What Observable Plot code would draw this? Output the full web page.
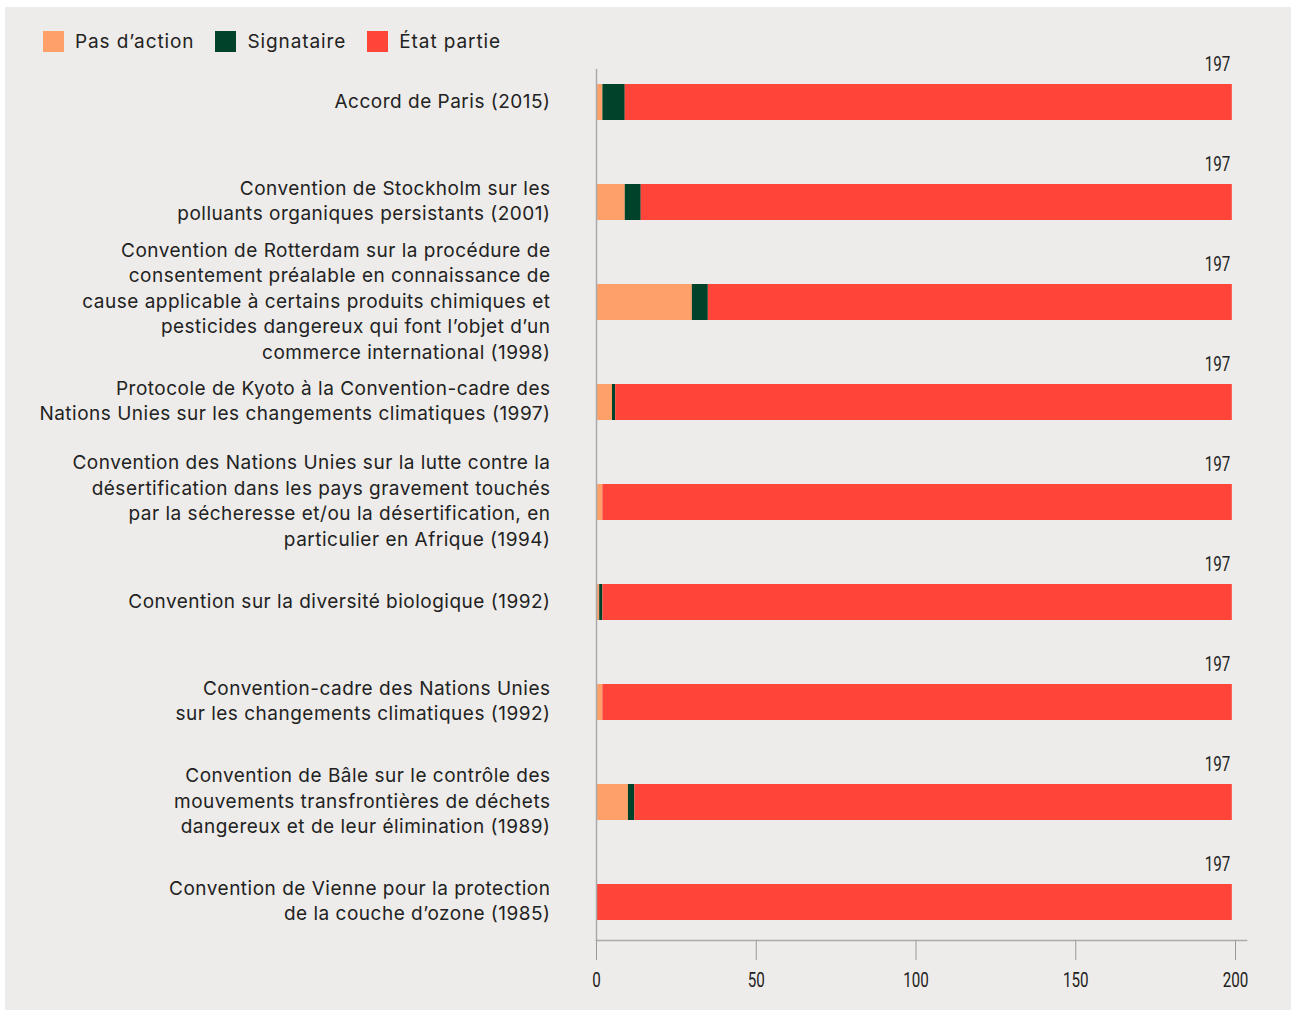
<!DOCTYPE html>
<html>
<head>
<meta charset="utf-8">
<script src="https://cdn.jsdelivr.net/npm/d3@7"></script>
<script src="https://cdn.jsdelivr.net/npm/@observablehq/plot@0.6"></script>
<style>
  body { margin: 0; background: #ffffff; width: 1296px; height: 1012px; position: relative; overflow: hidden; }
  #panel { position: absolute; left: 5px; top: 7px; width: 1286px; height: 1003px; background: #edecea; }
  #legend { position: absolute; left: 43px; top: 30px; display: flex; align-items: center; font-family: Inter, sans-serif; font-size: 19px; letter-spacing: 0.9px; color: #222; }
  .sw { display: flex; align-items: center; margin-right: 21px; }
  .sq { width: 21px; height: 21px; margin-right: 11px; }
  #chart { position: absolute; left: 0; top: 60px; }
  .ylab text { letter-spacing: 0.5px; }
</style>
</head>
<body>
<div id="panel"></div>
<div id="legend"></div>
<div id="chart"></div>
<script>
const categories = [
  "Accord de Paris (2015)",
  "Convention de Stockholm sur les\npolluants organiques persistants (2001)",
  "Convention de Rotterdam sur la procédure de\nconsentement préalable en connaissance de\ncause applicable à certains produits chimiques et\npesticides dangereux qui font l’objet d’un\ncommerce international (1998)",
  "Protocole de Kyoto à la Convention-cadre des\nNations Unies sur les changements climatiques (1997)",
  "Convention des Nations Unies sur la lutte contre la\ndésertification dans les pays gravement touchés\npar la sécheresse et/ou la désertification, en\nparticulier en Afrique (1994)",
  "Convention sur la diversité biologique (1992)",
  "Convention-cadre des Nations Unies\nsur les changements climatiques (1992)",
  "Convention de Bâle sur le contrôle des\nmouvements transfrontières de déchets\ndangereux et de leur élimination (1989)",
  "Convention de Vienne pour la protection\nde la couche d’ozone (1985)"
];
const seriesNames = ["Pas d’action", "Signataire", "État partie"];
const seriesColors = ["#fda06a", "#00432a", "#ff4539"];
const pasAction = [2, 9, 30, 5, 2, 1, 2, 10, 0];
const signataire = [7, 5, 5, 1, 0, 1, 0, 2, 0];
const etatPartie = [190, 185, 164, 193, 197, 197, 197, 187, 199];
const totalLabels = ["197", "197", "197", "197", "197", "197", "197", "197", "197"];
const xTicks = [0, 50, 100, 150, 200];

// legend
const leg = document.getElementById("legend");
seriesNames.forEach((s, i) => {
  const d = document.createElement("div"); d.className = "sw";
  const q = document.createElement("div"); q.className = "sq"; q.style.background = seriesColors[i];
  const t = document.createElement("span"); t.textContent = s;
  d.appendChild(q); d.appendChild(t); leg.appendChild(d);
});

const seriesValues = [pasAction, signataire, etatPartie];
const rows = [];
categories.forEach((c, i) => {
  seriesNames.forEach((s, j) => rows.push({name: c, series: s, value: seriesValues[j][i]}));
});
const totals = categories.map((c, i) => ({name: c, total: pasAction[i] + signataire[i] + etatPartie[i], label: totalLabels[i]}));

const numFont = "Roboto, sans-serif";

const plot = Plot.plot({
  width: 1296,
  height: 950,
  marginLeft: 596,
  marginRight: 61,
  marginTop: 3,
  marginBottom: 70,
  style: {background: "transparent", overflow: "visible"},
  x: {domain: [0, 200], label: null, axis: null},
  y: {domain: categories, paddingInner: 0.64, paddingOuter: 0.2, axis: null, label: null},
  color: {domain: seriesNames, range: seriesColors},
  marks: [
    Plot.barX(rows, {y: "name", x: "value", fill: "series"}),
    Plot.ruleX([0], {stroke: "#aaaaaa", strokeWidth: 1.5, insetTop: 6}),
    Plot.frame({anchor: "bottom", stroke: "#aaaaaa", strokeWidth: 1.5, insetRight: -11}),
    Plot.axisX({ticks: xTicks, tickSize: 20, tickPadding: 12, fontSize: 20.5, fontFamily: numFont, stroke: "#999", fill: "#222", label: null, className: "num"}),
    Plot.axisY({tickSize: 0, tickPadding: 46, fontSize: 19, lineHeight: 1.342, dy: -3, fontFamily: "Inter, sans-serif", fill: "#222", label: null, className: "ylab"}),
    Plot.text(totals, {x: "total", y: "name", text: "label", dy: -38, dx: -2, textAnchor: "end", fontSize: 20.5, fontFamily: numFont, fill: "#222", className: "num"})
  ]
});
document.getElementById("chart").appendChild(plot);
// condensed look for numeric labels
plot.querySelectorAll(".num text").forEach(t => {
  const w = t.getComputedTextLength();
  t.setAttribute("textLength", (w * 0.74).toFixed(2));
  t.setAttribute("lengthAdjust", "spacingAndGlyphs");
});
</script>
</body>
</html>
